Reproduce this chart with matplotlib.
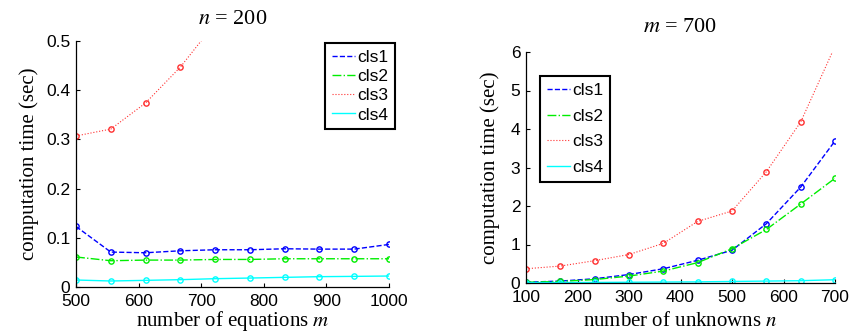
import matplotlib
matplotlib.use("Agg")
import matplotlib.pyplot as plt

plt.rcParams['mathtext.fontset'] = 'stix'

# Left panel: n = 200, varying m
m_vals = [500, 555.6, 611.1, 666.7, 722.2, 777.8, 833.3, 888.9, 944.4, 1000]
left_cls1 = [0.123, 0.071, 0.0696, 0.0736, 0.0757, 0.0757, 0.0777, 0.077, 0.077, 0.0865]
left_cls2 = [0.061, 0.0534, 0.0547, 0.0547, 0.056, 0.056, 0.0574, 0.0574, 0.0574, 0.0574]
left_cls3 = [0.307, 0.321, 0.374, 0.447, 0.536, 0.62, 0.71, 0.80, 0.90, 1.01]
left_cls4 = [0.0142, 0.0122, 0.0135, 0.0149, 0.0169, 0.0182, 0.0196, 0.021, 0.0216, 0.0223]

# Right panel: m = 700, varying n
n_vals = [100, 166.7, 233.3, 300, 366.7, 433.3, 500, 566.7, 633.3, 700]
right_cls1 = [0.02, 0.05, 0.11, 0.22, 0.37, 0.59, 0.85, 1.54, 2.49, 3.69]
right_cls2 = [0.02, 0.04, 0.09, 0.18, 0.31, 0.53, 0.89, 1.39, 2.05, 2.72]
right_cls3 = [0.37, 0.44, 0.58, 0.74, 1.03, 1.60, 1.87, 2.89, 4.18, 6.15]
right_cls4 = [0.01, 0.012, 0.015, 0.02, 0.025, 0.03, 0.04, 0.05, 0.06, 0.085]

labels = ['cls1', 'cls2', 'cls3', 'cls4']
colors = ['#0000ff', '#00ee00', '#ff3030', '#00ffff']
styles = ['--', '-.', ':', '-']

fig = plt.figure(figsize=(8.65, 3.33), dpi=100)
W, H = 865, 333
axL = fig.add_axes([76 / W, 1 - 287 / H, (389 - 76) / W, (287 - 41) / H])
axR = fig.add_axes([526 / W, 1 - 283 / H, (835 - 526) / W, (283 - 52) / H])

tickfont = dict(family='Liberation Sans', size=12.5)

def draw(ax, x, series, xlim, ylim, xticks, yticks, yticklabels, title, xlabel,
         title_pad, xlabelpad, ylabelpad, labelspacing):
    handles = []
    for ys, c, ls, lab in zip(series, colors, styles, labels):
        lw = 0.8 if ls == ':' else 1.0
        ax.plot(x, ys, color=c, linestyle=ls, linewidth=lw, marker='o', markersize=3.8,
                markerfacecolor='none', markeredgewidth=1.0, clip_on=True)
        h, = ax.plot([], [], color=c, linestyle=ls, linewidth=lw, label=lab)
        handles.append(h)
    ax.set_xlim(*xlim)
    ax.set_ylim(*ylim)
    ax.set_xticks(xticks)
    ax.set_yticks(yticks)
    ax.set_xticklabels([str(t) for t in xticks], **tickfont)
    ax.set_yticklabels(yticklabels, **tickfont)
    ax.tick_params(direction='in', length=3, width=0.8)
    ax.tick_params(axis='x', pad=5)
    ax.tick_params(axis='y', pad=4)
    ax.spines['top'].set_visible(False)
    ax.spines['right'].set_visible(False)
    ax.spines['left'].set_linewidth(0.9)
    ax.spines['bottom'].set_linewidth(0.9)
    ax.set_title(title, fontsize=16, family='Liberation Serif', pad=title_pad)
    ax.set_xlabel(xlabel, fontsize=15, family='Liberation Serif', labelpad=xlabelpad)
    ax.set_ylabel('computation time (sec)', fontsize=15, family='Liberation Serif',
                  labelpad=ylabelpad)
    leg = ax.legend(handles=handles, loc='upper left', fancybox=False, edgecolor='black',
                    framealpha=1, borderpad=0.4, borderaxespad=0, handlelength=1.35,
                    handletextpad=0.1, labelspacing=labelspacing,
                    prop=dict(family='Liberation Sans', size=12.5))
    leg.get_frame().set_linewidth(1.5)
    return leg

legL = draw(axL, m_vals, [left_cls1, left_cls2, left_cls3, left_cls4], (500, 1000), (0, 0.5),
            [500, 600, 700, 800, 900, 1000], [0, 0.1, 0.2, 0.3, 0.4, 0.5],
            ['0', '0.1', '0.2', '0.3', '0.4', '0.5'], r'$n$ = 200',
            r'number of equations $m$', 12, 0, 5, 0.23)
legR = draw(axR, n_vals, [right_cls1, right_cls2, right_cls3, right_cls4], (100, 700), (0, 6),
            [100, 200, 300, 400, 500, 600, 700], [0, 1, 2, 3, 4, 5, 6],
            ['0', '1', '2', '3', '4', '5', '6'], r'$m$ = 700',
            r'number of unknowns $n$', 14.5, 5, 8, 0.6)

legL.set_bbox_to_anchor((325 / W, 1 - 43 / H), transform=fig.transFigure)
legR.set_bbox_to_anchor((540 / W, 1 - 76 / H), transform=fig.transFigure)

fig.savefig('out.png', dpi=100)
